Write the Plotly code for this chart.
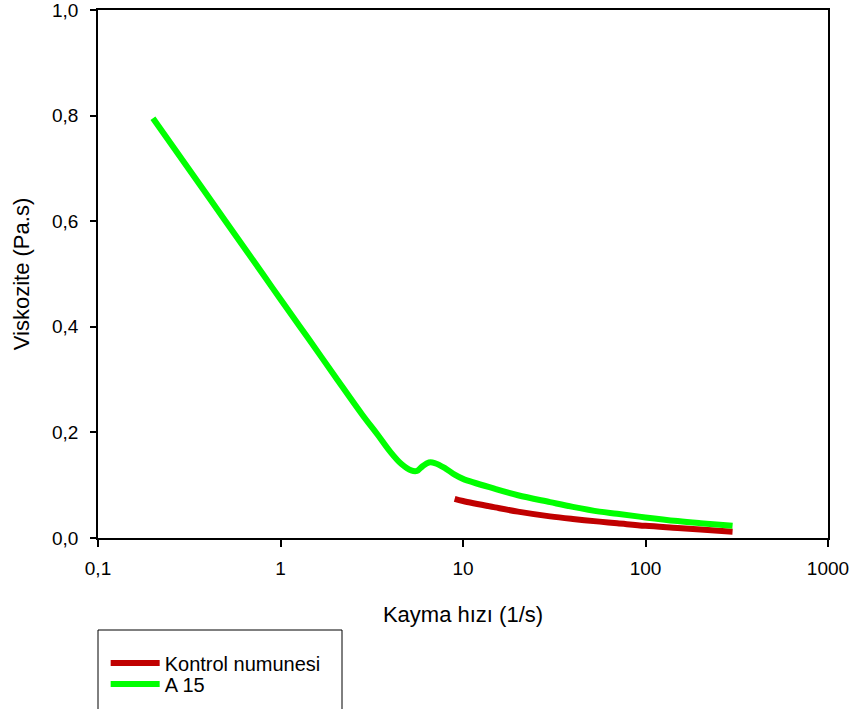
import plotly.graph_objects as go

# Data
green_x = [0.2, 0.3, 0.5, 0.8, 1.0, 1.4, 2.0, 2.8, 3.4, 4.0, 4.6, 5.2, 5.6, 6.0, 6.5, 7.0, 8.0, 9.0, 10, 15, 20, 30, 40, 56, 70, 100, 150, 200, 300]
green_y = [0.795, 0.709, 0.600, 0.500, 0.452, 0.381, 0.305, 0.234, 0.196, 0.163, 0.140, 0.128, 0.127, 0.136, 0.143, 0.142, 0.132, 0.120, 0.112, 0.093, 0.081, 0.068, 0.059, 0.050, 0.046, 0.039, 0.032, 0.028, 0.023]
red_x = [9.0, 10, 15, 20, 30, 40, 56, 70, 100, 150, 200, 300]
red_y = [0.074, 0.070, 0.058, 0.050, 0.041, 0.036, 0.031, 0.028, 0.023, 0.019, 0.016, 0.012]

x_ticks = [0.1, 1, 10, 100, 1000]
x_labels = ["0,1", "1", "10", "100", "1000"]
y_ticks = [0.0, 0.2, 0.4, 0.6, 0.8, 1.0]
y_labels = ["0,0", "0,2", "0,4", "0,6", "0,8", "1,0"]

FONT = "Liberation Sans, Arial, sans-serif"

fig = go.Figure()
fig.add_trace(go.Scatter(x=red_x, y=red_y, mode="lines", name="Kontrol numunesi",
                         line=dict(color="#C00000", width=6, shape="spline"),
                         legend="legend"))
fig.add_trace(go.Scatter(x=green_x, y=green_y, mode="lines", name="A 15",
                         line=dict(color="#00FF00", width=6, shape="spline"),
                         legend="legend2"))

leg_common = dict(x=0.0105, xanchor="left", yanchor="middle",
                  bgcolor="rgba(0,0,0,0)", borderwidth=0,
                  font=dict(family=FONT, size=20, color="black"),
                  itemwidth=49)

fig.update_layout(
    width=855, height=709,
    margin=dict(l=98, r=27, t=10, b=171, autoexpand=False),
    plot_bgcolor="white", paper_bgcolor="white",
    font=dict(family=FONT, size=19, color="black"),
    showlegend=True,
    legend=dict(y=(538 - 663) / 528, **leg_common),
    legend2=dict(y=(538 - 684) / 528, **leg_common),
    xaxis=dict(type="log", range=[-1, 3], tickvals=x_ticks, ticktext=x_labels,
               automargin=False, ticklabeloverflow="allow",
               ticks="outside", ticklen=7, tickwidth=1.5, tickcolor="black",
               ticklabelstandoff=5,
               showline=True, linecolor="black", linewidth=1.5, mirror=True,
               showgrid=False, zeroline=False,
               tickfont=dict(family=FONT, size=19),
               title=dict(text="Kayma hızı (1/s)", font=dict(family=FONT, size=22), standoff=29)),
    yaxis=dict(range=[0, 1], tickvals=y_ticks, ticktext=y_labels,
               automargin=False, ticklabeloverflow="allow",
               ticks="outside", ticklen=6, tickwidth=1.5, tickcolor="black",
               ticklabelstandoff=8,
               showline=True, linecolor="black", linewidth=1.5, mirror=True,
               showgrid=False, zeroline=False,
               tickfont=dict(family=FONT, size=19),
               title=dict(text="Viskozite (Pa.s)", font=dict(family=FONT, size=22), standoff=16)),
    shapes=[dict(type="rect", xref="paper", yref="paper",
                 x0=0, x1=(342 - 98) / 730, y0=(538 - 715) / 528, y1=(538 - 630) / 528,
                 line=dict(color="black", width=1), fillcolor="rgba(0,0,0,0)")],
)

fig.write_html("out.html")
